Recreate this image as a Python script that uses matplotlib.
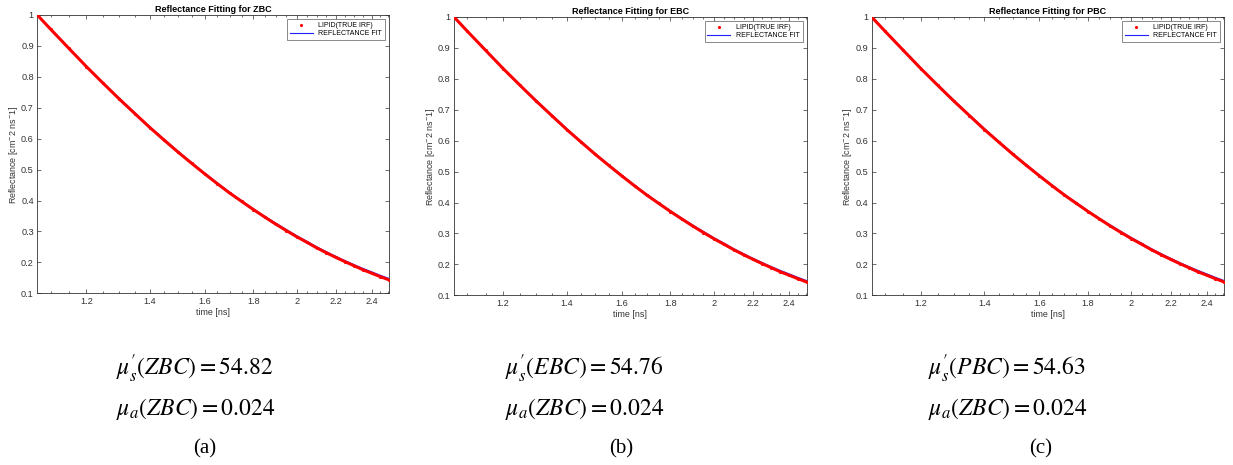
import matplotlib
matplotlib.use('Agg')
import matplotlib.pyplot as plt
from matplotlib.lines import Line2D
from matplotlib.ticker import FixedLocator, FixedFormatter, NullFormatter

# ---------------- data ----------------
time_ns = [1.065, 1.10, 1.15, 1.20, 1.25, 1.30, 1.35, 1.40, 1.45, 1.50,
           1.55, 1.60, 1.65, 1.70, 1.75, 1.80, 1.85, 1.90, 1.95, 2.00,
           2.05, 2.10, 2.15, 2.20, 2.25, 2.30, 2.35, 2.40, 2.45, 2.505]

lipid_zbc = [1.000, 0.954, 0.892, 0.833, 0.779, 0.728, 0.681, 0.636, 0.595, 0.556,
             0.520, 0.486, 0.454, 0.424, 0.397, 0.371, 0.347, 0.324, 0.303, 0.283,
             0.265, 0.247, 0.231, 0.216, 0.202, 0.189, 0.176, 0.165, 0.154, 0.143]
fit_zbc = [1.000, 0.955, 0.893, 0.834, 0.780, 0.730, 0.683, 0.638, 0.597, 0.558,
           0.522, 0.488, 0.456, 0.426, 0.399, 0.373, 0.349, 0.327, 0.306, 0.286,
           0.268, 0.250, 0.234, 0.219, 0.205, 0.192, 0.180, 0.169, 0.158, 0.147]

lipid_ebc = list(lipid_zbc)
fit_ebc = list(fit_zbc)
lipid_pbc = list(lipid_zbc)
fit_pbc = list(fit_zbc)

panel_names = ['ZBC', 'EBC', 'PBC']
lipid_series = [lipid_zbc, lipid_ebc, lipid_pbc]
fit_series = [fit_zbc, fit_ebc, fit_pbc]
mus_text = [r"$\mu_s^{\prime}(ZBC) = 54.82$", r"$\mu_s^{\prime}(EBC) = 54.76$",
            r"$\mu_s^{\prime}(PBC) = 54.63$"]
mua_text = [r"$\mu_a(ZBC) = 0.024$", r"$\mu_a(ZBC) = 0.024$", r"$\mu_a(ZBC) = 0.024$"]
sub_labels = ['(a)', '(b)', '(c)']

x_major = [1.2, 1.4, 1.6, 1.8, 2.0, 2.2, 2.4]
x_major_labels = ['1.2', '1.4', '1.6', '1.8', '2', '2.2', '2.4']
x_minor = [1.1, 1.15, 1.25, 1.3, 1.35, 1.45, 1.5, 1.55, 1.65, 1.7, 1.75,
           1.85, 1.9, 1.95, 2.05, 2.1, 2.15, 2.25, 2.3, 2.35, 2.45, 2.5]
y_ticks = [0.1, 0.2, 0.3, 0.4, 0.5, 0.6, 0.7, 0.8, 0.9, 1.0]
y_tick_labels = ['0.1', '0.2', '0.3', '0.4', '0.5', '0.6', '0.7', '0.8', '0.9', '1']

# ---------------- figure ----------------
W, H = 1233, 465
fig = plt.figure(figsize=(W / 100, H / 100), dpi=100)
plt.rcParams['font.family'] = ['Liberation Sans', 'DejaVu Sans']
plt.rcParams['mathtext.fontset'] = 'stix'

axes_px = [(37.3, 389.3, 15.0, 293.3),
           (454.0, 806.7, 17.0, 295.3),
           (871.7, 1224.3, 17.0, 295.3)]
text_left_px = [116, 505, 928]
sub_center_px = [205, 621, 1041]

grey = '#333333'

for i in range(3):
    l, r, t, b = axes_px[i]
    ax = fig.add_axes([l / W, 1 - b / H, (r - l) / W, (b - t) / H])
    ax.set_xscale('log')
    ax.plot(time_ns, fit_series[i], color='#1f1fff', lw=1.0, zorder=2)
    ax.plot(time_ns, lipid_series[i], color='#ff0000', lw=2.2, marker='.',
            markersize=2.5, zorder=3)
    ax.set_xlim(time_ns[0], time_ns[-1])
    ax.set_ylim(0.1, 1.0)

    ax.xaxis.set_major_locator(FixedLocator(x_major))
    ax.xaxis.set_major_formatter(FixedFormatter(x_major_labels))
    ax.xaxis.set_minor_locator(FixedLocator(x_minor))
    ax.xaxis.set_minor_formatter(NullFormatter())
    ax.yaxis.set_major_locator(FixedLocator(y_ticks))
    ax.yaxis.set_major_formatter(FixedFormatter(y_tick_labels))

    ax.tick_params(which='both', direction='in', top=True, right=True,
                   colors=grey, labelsize=6.6, width=0.5, pad=2.5)
    ax.tick_params(which='major', length=3)
    ax.tick_params(which='minor', length=1.6)
    for s in ax.spines.values():
        s.set_color(grey)
        s.set_linewidth(0.6)

    ax.set_title('Reflectance Fitting for ' + panel_names[i], fontsize=6.5,
                 fontweight='bold', pad=2.5)
    ax.set_xlabel('time [ns]', fontsize=6.4, color=grey, labelpad=1.5)
    ax.set_ylabel(r'Reflectance [cm$^{-}$2 ns$^{-}$1]', fontsize=6.4, color=grey,
                  labelpad=0.8)

    handles = [Line2D([], [], color='#ff0000', marker='.', markersize=2.5, lw=0),
               Line2D([], [], color='#1f1fff', lw=0.8)]
    leg = ax.legend(handles, ['LIPID(TRUE IRF)', 'REFLECTANCE FIT'],
                    loc='upper right', fontsize=5, frameon=True, fancybox=False,
                    handlelength=3.3, borderaxespad=0.6, borderpad=0.4,
                    labelspacing=0.2, handletextpad=0.8)
    leg.get_frame().set_edgecolor('#555555')
    leg.get_frame().set_linewidth(0.6)

    fig.text(text_left_px[i] / W, 1 - 369 / H, mus_text[i], fontsize=17,
             ha='left', va='center')
    fig.text(text_left_px[i] / W, 1 - 409 / H, mua_text[i], fontsize=17,
             ha='left', va='center')
    fig.text(sub_center_px[i] / W, 1 - 449 / H, sub_labels[i], fontsize=15,
             ha='center', va='center', family='Liberation Serif')

fig.savefig('out.png', dpi=100)
